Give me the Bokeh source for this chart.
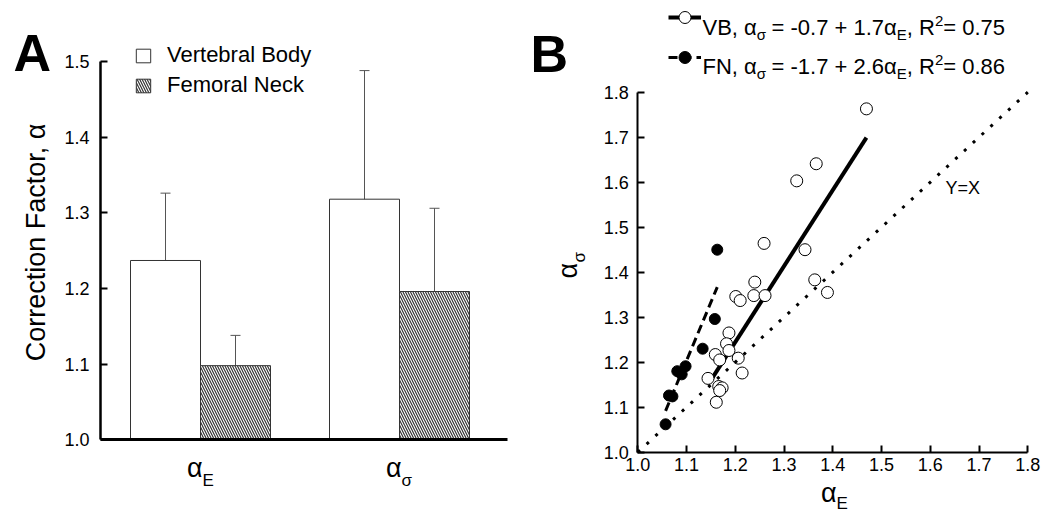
from bokeh.plotting import figure
from bokeh.models import (Range1d, LinearAxis, FixedTicker, PrintfTickFormatter, Label,
                          Legend, LegendItem, Whisker, TeeHead, ColumnDataSource)
from bokeh.core.properties import value
from bokeh.layouts import row
from bokeh.embed import file_html
from bokeh.resources import INLINE
import math

FONT = "Liberation Sans"

# ---------------- data : panel A (mean +/- SD) ----------------
groups = [1, 2]                      # alpha_E , alpha_sigma
vb_mean = [1.237, 1.318]
vb_sd = [0.089, 0.170]
fn_mean = [1.098, 1.196]
fn_sd = [0.040, 0.110]
a_ticks = [1.0, 1.1, 1.2, 1.3, 1.4, 1.5]

# ---------------- data : panel B ----------------
vb_aE = [1.469, 1.366, 1.326, 1.259, 1.343, 1.240, 1.363, 1.389, 1.201, 1.210, 1.238, 1.261,
         1.187, 1.182, 1.187, 1.159, 1.168, 1.206, 1.214, 1.144, 1.166, 1.173, 1.168, 1.161]
vb_as = [1.763, 1.641, 1.603, 1.464, 1.450, 1.378, 1.383, 1.355, 1.346, 1.337, 1.348, 1.348,
         1.265, 1.241, 1.226, 1.217, 1.205, 1.209, 1.176, 1.164, 1.146, 1.143, 1.137, 1.111]
fn_aE = [1.057, 1.064, 1.071, 1.081, 1.090, 1.098, 1.133, 1.158, 1.163]
fn_as = [1.062, 1.126, 1.124, 1.180, 1.173, 1.191, 1.230, 1.296, 1.450]
vb_fit_x = [1.151, 1.469]
vb_fit_y = [1.162, 1.699]
fn_fit_x = [1.057, 1.163]
fn_fit_y = [1.092, 1.367]
identity = [1.0, 1.8]
b_ticks = [1.0, 1.1, 1.2, 1.3, 1.4, 1.5, 1.6, 1.7, 1.8]

# ---------------- geometry (page pixels) ----------------
H = 512
A_W = 530
A_PX, A_CX = 199.0, 200.0      # px per group unit, page x of group 1
A_PY, A_Y0 = 756.6, 439.3      # px per unit, page y of 1.0
BAR_W = 70 / A_PX

B_OX, B_W = 530, 511
B_PX, B_X0 = 487.5, 637.3
B_PY, B_Y0 = 450.0, 451.7


def ax(sx):
    return 1.0 + (sx - A_CX) / A_PX


def ay(sy):
    return 1.0 + (A_Y0 - sy) / A_PY


def bx(sx):
    return 1.0 + (sx - B_X0) / B_PX


def by(sy):
    return 1.0 + (B_Y0 - sy) / B_PY


def lab(p, x, y, text, size, angle=0.0, align="left", bold=False):
    p.add_layout(Label(x=x, y=y, text=text, text_font=FONT, text_font_size=f"{size}px",
                       text_align=align, text_baseline="alphabetic", angle=angle,
                       text_font_style="bold" if bold else "normal", text_color="black"))


W = {' ': 278, ',': 278, '.': 278, '-': 333, '+': 584, '=': 584, 'V': 667, 'B': 667, 'F': 611,
     'N': 722, 'R': 722, 'E': 667, 'α': 579, 'σ': 574}


def tw(s, size):
    return sum(W.get(c, 556) for c in s) * size / 1000.0


def rich(p, sx0, base, segs, size):
    small = round(size * 0.68)
    x = sx0
    for txt, kind in segs:
        fs = size if kind == "m" else small
        dy = {"m": 0, "sub": 7, "sup": -7}[kind]
        t = txt.lstrip(" ")
        x += tw(txt[:len(txt) - len(t)], fs)
        lab(p, bx(x), by(base + dy), t, fs)
        x += tw(t, fs)


def style_axis(a, size):
    a.axis_line_color = "black"
    a.major_tick_line_color = "black"
    a.major_tick_in = 7
    a.major_tick_out = 0
    a.major_tick_line_width = 2
    a.minor_tick_line_color = None
    a.major_label_text_font = FONT
    a.major_label_text_font_size = f"{size}px"
    a.major_label_text_color = "black"


# ================= panel A =================
pa = figure(width=A_W, height=H, x_range=Range1d(ax(0), ax(A_W)), y_range=Range1d(ay(H), ay(0)),
            x_axis_type=None, y_axis_type=None, toolbar_location=None, output_backend="svg",
            min_border=0, outline_line_color=None)

vb_x = [g - BAR_W / 2 for g in groups]
fn_x = [g + BAR_W / 2 for g in groups]
vb_bars = pa.vbar(x=vb_x, top=vb_mean, bottom=1.0, width=BAR_W, fill_color="white",
                  line_color="#333333", line_width=1)
fn_bars = pa.vbar(x=fn_x, top=fn_mean, bottom=1.0, width=BAR_W, fill_color="white",
                  line_color="#333333", line_width=1, hatch_pattern="\\", hatch_scale=5,
                  hatch_weight=1.2, hatch_color="#333333")

err = ColumnDataSource(dict(x=vb_x + fn_x,
                            upper=[m + s for m, s in zip(vb_mean + fn_mean, vb_sd + fn_sd)],
                            lower=[m - s for m, s in zip(vb_mean + fn_mean, vb_sd + fn_sd)]))
pa.add_layout(Whisker(source=err, base="x", upper="upper", lower="lower", line_color="#555555",
                      line_width=1,
                      upper_head=TeeHead(size=10, line_color="#555555", line_width=1),
                      lower_head=TeeHead(size=10, line_color="#555555", line_width=1)))

ya = LinearAxis(ticker=FixedTicker(ticks=a_ticks), formatter=PrintfTickFormatter(format="%.1f"),
                bounds=(1.0, 1.5), fixed_location=ax(100), axis_line_width=2.5,
                major_label_standoff=11)
style_axis(ya, 18)
pa.add_layout(ya, "left")
xa = LinearAxis(ticker=FixedTicker(ticks=[]), fixed_location=1.0, bounds=(ax(100), ax(507)),
                axis_line_width=3, axis_line_color="black", major_tick_line_color=None,
                minor_tick_line_color=None, major_label_text_font_size="0px")
pa.add_layout(xa, "below")

legA = Legend(items=[LegendItem(label=value("Vertebral Body"), renderers=[vb_bars]),
                     LegendItem(label=value("Femoral Neck"), renderers=[fn_bars])],
              location=(134, H - 98), glyph_width=18, glyph_height=17, label_height=17,
              spacing=4, padding=0, margin=0, label_standoff=15, label_text_font=FONT,
              label_text_font_size="22px", label_text_color="black",
              border_line_color=None, background_fill_alpha=0)
pa.add_layout(legA)

lab(pa, ax(13), ay(52), "A", 52, bold=True)
lab(pa, ax(35), ay(242), "Correction Factor, α", 27, angle=math.pi / 2, align="center")
for g, s in zip(groups, ["E", "σ"]):
    lab(pa, g + 2 / A_PX, ay(467), "α", 27, align="right")
    lab(pa, g + 2 / A_PX, ay(480), s, 17)

# ================= panel B =================
pb = figure(width=B_W, height=H, x_range=Range1d(bx(B_OX), bx(B_OX + B_W)),
            y_range=Range1d(by(H), by(0)),
            x_axis_type=None, y_axis_type=None, toolbar_location=None, output_backend="svg",
            min_border=0, outline_line_color=None)

vb_line = pb.line(vb_fit_x, vb_fit_y, line_width=4, line_color="black")
fn_line = pb.line(fn_fit_x, fn_fit_y, line_width=3, line_color="black", line_dash="9 5")
vb_pts = pb.scatter(vb_aE, vb_as, marker="circle", size=12, fill_color="white",
                    line_color="black", line_width=1)
fn_pts = pb.scatter(fn_aE, fn_as, marker="circle", size=11, fill_color="black",
                    line_color="black", line_width=1)
pb.line(identity, identity, line_width=3, line_color="black", line_dash="3 9")

yb = LinearAxis(ticker=FixedTicker(ticks=b_ticks), formatter=PrintfTickFormatter(format="%.1f"),
                bounds=(1.0, 1.8), fixed_location=1.0, axis_line_width=2,
                major_label_standoff=9)
style_axis(yb, 18)
pb.add_layout(yb, "left")
xb = LinearAxis(ticker=FixedTicker(ticks=b_ticks), formatter=PrintfTickFormatter(format="%.1f"),
                bounds=(1.0, 1.8), fixed_location=1.0, axis_line_width=2,
                major_label_standoff=6)
style_axis(xb, 18)
pb.add_layout(xb, "below")

legB = Legend(items=[LegendItem(label=value(" "), renderers=[vb_line, vb_pts]),
                     LegendItem(label=value(" "), renderers=[fn_line, fn_pts])],
              location=(668 - B_OX, H - 72), glyph_width=33, glyph_height=30, label_height=30,
              spacing=10, padding=0, margin=0, label_standoff=0, label_text_font_size="2px",
              border_line_color=None, background_fill_alpha=0)
pb.add_layout(legB)

rich(pb, 702, 27, [("VB, α", "m"), ("σ", "sub"), (" = -0.7 + 1.7α", "m"), ("E", "sub"),
                   (", R", "m"), ("2", "sup"), ("= 0.75", "m")], 22)
rich(pb, 702, 66, [("FN, α", "m"), ("σ", "sub"), (" = -1.7 + 2.6α", "m"), ("E", "sub"),
                   (", R", "m"), ("2", "sup"), ("= 0.86", "m")], 22)

lab(pb, bx(530), by(53), "B", 52, bold=True)
lab(pb, bx(945), by(187), "Y=X", 18)
lab(pb, bx(836), by(492), "α", 27, align="right")
lab(pb, bx(836), by(503), "E", 17)
lab(pb, bx(567), by(278), "α", 27, angle=math.pi / 2)
lab(pb, bx(579), by(262), "σ", 17, angle=math.pi / 2)

layout = row(pa, pb)
open("out.html", "w").write(file_html(layout, INLINE))
